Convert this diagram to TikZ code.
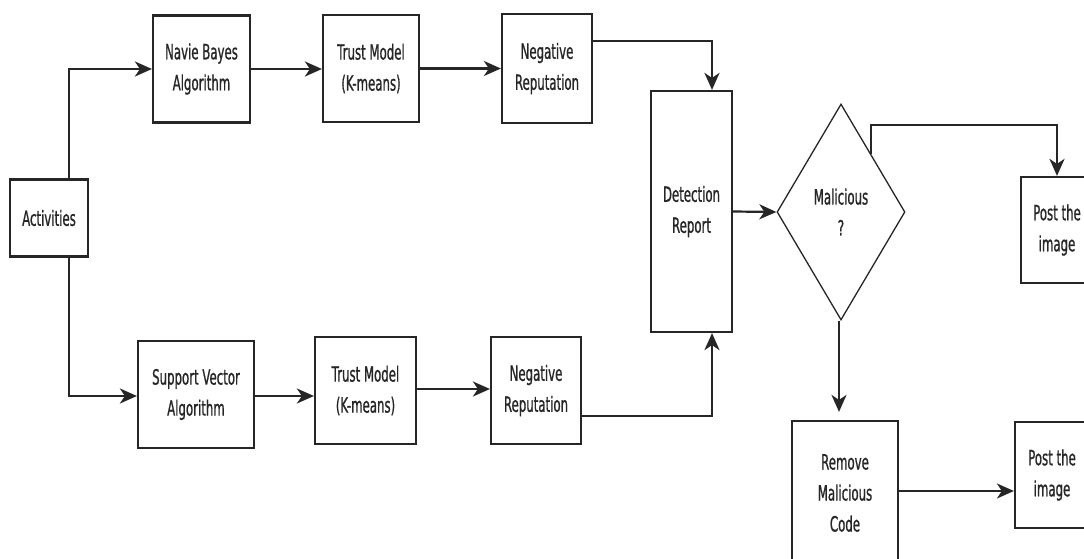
\documentclass[tikz,border=0pt]{standalone}
\usepackage{fontspec}
\setmainfont[FakeStretch=0.56,FakeBold=0.8]{DejaVu Sans}
\usetikzlibrary{arrows.meta,calc,shapes.geometric}
\definecolor{ink}{HTML}{262626}
\tikzset{
  stepbox/.style={draw=ink, line width=2.2pt, align=center, inner sep=0pt,
    font=\fontsize{21}{31}\selectfont, text=ink},
  decision/.style={diamond, draw=ink, line width=1.3pt, align=center, inner sep=0pt,
    font=\fontsize{21}{31}\selectfont, text=ink},
  flow/.style={draw=ink, line width=2.2pt, -{Stealth[length=17pt,width=15pt,inset=5pt]}}
}
\begin{document}
\begin{tikzpicture}[x=1pt,y=-1pt]
\useasboundingbox[fill=white] (0,0) rectangle (1084,559);
\clip (0,0) rectangle (1084,559);
% nodes
\node[stepbox, minimum width=78pt, minimum height=77pt] (act) at (49,218) {Activities};
\node[stepbox, minimum width=97pt, minimum height=107pt] (nb) at (201.5,69) {Navie Bayes\\Algorithm};
\node[stepbox, minimum width=96pt, minimum height=107pt] (tm1) at (371,68.5) {Trust Model\\(K-means)};
\node[stepbox, minimum width=90pt, minimum height=109pt] (nr1) at (547,68.5) {Negative\\Reputation};
\node[stepbox, minimum width=116pt, minimum height=107pt] (sv) at (196,394.5) {Support Vector\\Algorithm};
\node[stepbox, minimum width=101pt, minimum height=107pt] (tm2) at (365.5,390.5) {Trust Model\\(K-means)};
\node[stepbox, minimum width=90pt, minimum height=107pt] (nr2) at (536,390.5) {Negative\\Reputation};
\node[stepbox, minimum width=81pt, minimum height=241pt] (det) at (691.5,211.5) {Detection\\Report};
\node[decision, minimum width=128pt, minimum height=216pt] (mal) at (841,212) {Malicious\\?};
\node[stepbox, minimum width=72pt, minimum height=106pt] (post1) at (1057,230) {Post the\\image};
\node[stepbox, minimum width=106pt, minimum height=144pt] (rm) at (845,493) {Remove\\Malicious\\Code};
\node[stepbox, minimum width=74pt, minimum height=106pt] (post2) at (1052,475) {Post the\\image};
% connectors
\draw[flow] ($(act.north)+(20,0)$) |- (nb.west);
\draw[flow] ($(act.south)+(20,0)$) |- ($(sv.west)+(0,1.5)$);
\draw[flow] (nb.east) -- (tm1.west |- nb.east);
\draw[flow] (tm1.east) -- (nr1.west |- tm1.east);
\draw[flow] ($(nr1.east)+(0,-27.5)$) -| ($(det.north)+(20.5,0)$);
\draw[flow] ($(sv.east)+(0,1.5)$) -- ($(tm2.west)+(0,5.5)$);
\draw[flow] ($(tm2.east)+(0,-1.5)$) -- ($(nr2.west)+(0,-1.5)$);
\draw[flow] ($(nr2.east)+(0,25.5)$) -| ($(det.south)+(20.5,0)$);
\draw[flow] (det.east) -- (mal.west);
\coordinate (mr) at ($(mal.north)!0.47!(mal.east)$);
\draw[flow] (mr) |- ($(post1.north)+(0,-51)$) -- (post1.north);
\draw[flow] ($(mal.south)+(-2,0)$) -- ($(rm.north)+(-6,-8)$);
\draw[flow] ($(rm.east)+(0,-2)$) -- ($(post2.west)+(0,16)$);
\end{tikzpicture}
\end{document}
